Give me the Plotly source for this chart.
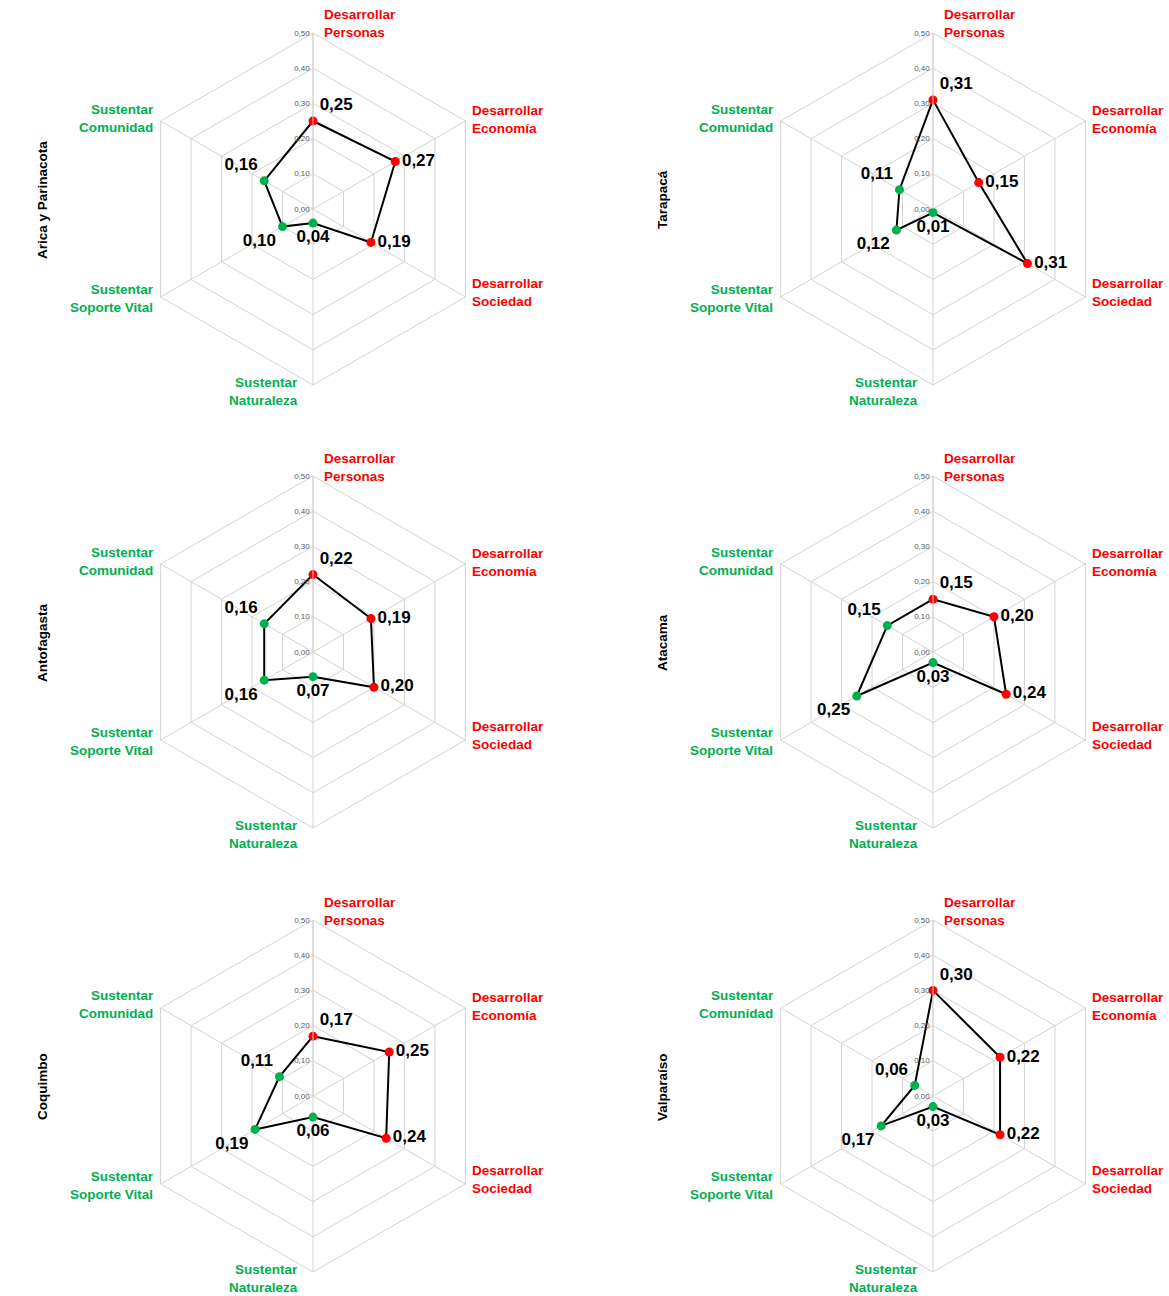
import math
import plotly.graph_objects as go

W, H = 1169, 1296

categories = ["Desarrollar Personas", "Desarrollar Economía", "Desarrollar Sociedad",
              "Sustentar Naturaleza", "Sustentar Soporte Vital", "Sustentar Comunidad"]
cat_colors = ["#FF0000", "#FF0000", "#FF0000", "#00B050", "#00B050", "#00B050"]

regions = ["Arica y Parinacota", "Tarapacá", "Antofagasta", "Atacama", "Coquimbo", "Valparaíso"]
arica = [0.25, 0.27, 0.19, 0.04, 0.10, 0.16]
tarapaca = [0.31, 0.15, 0.31, 0.01, 0.12, 0.11]
antofagasta = [0.22, 0.19, 0.20, 0.07, 0.16, 0.16]
atacama = [0.15, 0.20, 0.24, 0.03, 0.25, 0.15]
coquimbo = [0.17, 0.25, 0.24, 0.06, 0.19, 0.11]
valparaiso = [0.30, 0.22, 0.22, 0.03, 0.17, 0.06]
series = [arica, tarapaca, antofagasta, atacama, coquimbo, valparaiso]

radial_tickvals = [0.0, 0.1, 0.2, 0.3, 0.4, 0.5]
radial_ticktext = ["0,00", "0,10", "0,20", "0,30", "0,40", "0,50"]

FONT = "Liberation Sans, Arial, sans-serif"
GRID = "#D3D3D3"

# layout geometry (pixels)
col_cx = [313, 933]
row_cy = [209, 652, 1096]
R = 176

text_pos = ["top right", "middle right", "middle right", "bottom center", "bottom left", "top left"]
# label placement relative to hexagon vertex: (dx, dy, xanchor)
label_off = [(9, -9, "left"), (5, -2, "left"), (5, -5, "left"),
             (-13, 6, "right"), (-5, 1, "right"), (-5, -3, "right")]
angles = [90, 30, -30, -90, -150, 150]

fig = go.Figure()
annotations = []

for i, (name, vals) in enumerate(zip(regions, series)):
    r_i, c_i = divmod(i, 2)
    cx, cy = col_cx[c_i], row_cy[r_i]
    pname = "polar" if i == 0 else f"polar{i+1}"
    dom_x = [(cx - R) / W, (cx + R) / W]
    dom_y = [1 - (cy + R) / H, 1 - (cy - R) / H]

    fig.add_trace(go.Scatterpolar(
        r=vals + [vals[0]],
        theta=categories + [categories[0]],
        mode="lines",
        line=dict(color="black", width=2),
        hoverinfo="skip",
        showlegend=False,
        subplot=pname,
    ))
    fig.add_trace(go.Scatterpolar(
        r=vals,
        theta=categories,
        mode="markers+text",
        marker=dict(color=cat_colors, size=9),
        text=[f"{v:.2f}".replace(".", ",") for v in vals],
        textposition=text_pos,
        textfont=dict(family=FONT, size=17, color="black", weight="bold"),
        showlegend=False,
        subplot=pname,
    ))

    fig.update_layout(**{pname: dict(
        domain=dict(x=dom_x, y=dom_y),
        gridshape="linear",
        bgcolor="white",
        angularaxis=dict(
            categoryorder="array", categoryarray=categories,
            rotation=90, direction="clockwise",
            showticklabels=False, ticks="",
            gridcolor=GRID, linecolor=GRID, linewidth=1, showline=True,
        ),
        radialaxis=dict(
            range=[0, 0.5], tickvals=radial_tickvals, ticktext=radial_ticktext,
            angle=90, side="counterclockwise", tickangle=90,
            tickfont=dict(family=FONT, size=8, color="#595959"),
            gridcolor=GRID, showline=True, linecolor=GRID, linewidth=1, ticks="",
        ),
    )})

    # axis category labels
    for k, cat in enumerate(categories):
        a = math.radians(angles[k])
        vx = cx + R * math.cos(a)
        vy = cy - R * math.sin(a)
        dx, dy, xa = label_off[k]
        first, rest = cat.split(" ", 1)
        annotations.append(dict(
            x=(vx + dx) / W, y=1 - (vy + dy) / H, xref="paper", yref="paper",
            text=f"{first}<br>{rest}", showarrow=False,
            xanchor=xa, yanchor="middle", align=xa,
            font=dict(family=FONT, size=13.5, color=cat_colors[k], weight="bold"),
        ))

    # region title
    annotations.append(dict(
        x=(cx - 271) / W, y=1 - (cy - 9) / H, xref="paper", yref="paper",
        text=name, showarrow=False, textangle=-90,
        xanchor="center", yanchor="middle",
        font=dict(family=FONT, size=13.5, color="black", weight="bold"),
    ))

fig.update_layout(
    width=W, height=H,
    margin=dict(l=0, r=0, t=0, b=0),
    paper_bgcolor="white",
    plot_bgcolor="white",
    annotations=annotations,
    font=dict(family=FONT),
)

fig.write_html(
    "out.html",
    config={"displayModeBar": False},
    post_script="document.body.style.margin='0';document.body.style.padding='0';document.body.style.overflow='hidden';",
)
